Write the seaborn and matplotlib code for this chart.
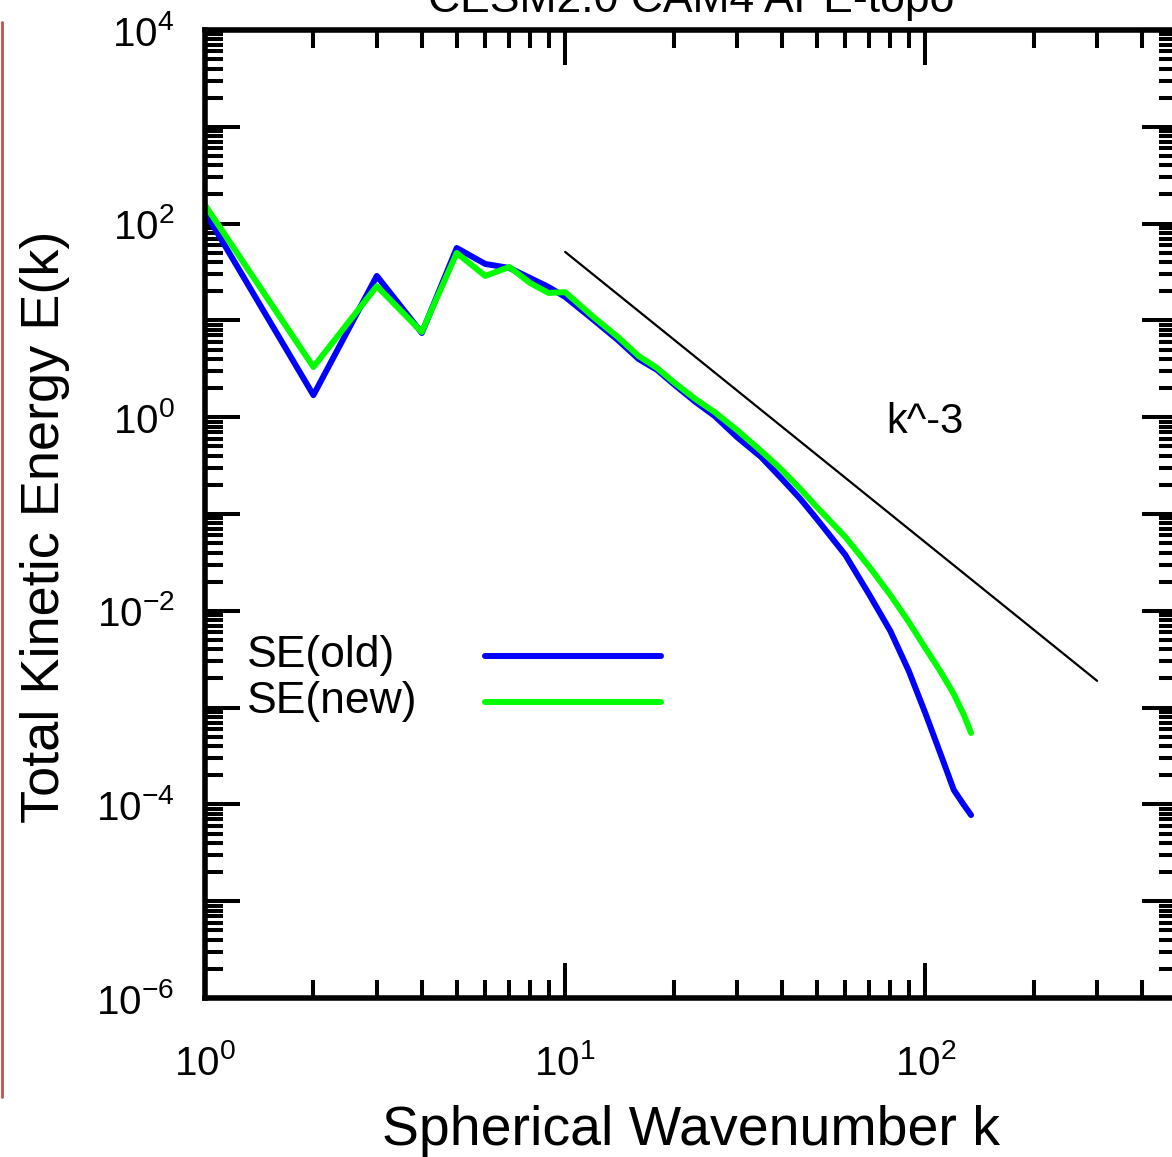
import numpy as np
import pandas as pd
import matplotlib
matplotlib.use("Agg")
import matplotlib.pyplot as plt
from matplotlib.ticker import LogLocator, FuncFormatter, NullFormatter
import seaborn as sns

# ---- data ----
k_vals = [1, 2, 3, 4, 5, 6, 7, 8, 9, 10, 12, 14, 16, 18, 20, 23, 26, 30, 35,
          40, 45, 50, 60, 70, 80, 90, 100, 110, 120, 128, 134]
e_old = [131.8, 1.69, 28.8, 7.41, 56.0, 38.3, 34.8, 27.4, 22.1, 17.5, 10.1,
         6.28, 3.99, 3.08, 2.20, 1.44, 1.03, 0.624, 0.388, 0.230, 0.143,
         0.0887, 0.0377, 0.01456, 0.00618, 0.00239, 0.000879, 0.000340,
         0.000141, 0.0000986, 0.0000776]
e_new = [155.6, 3.30, 22.6, 7.59, 49.7, 28.8, 35.6, 24.3, 19.2, 19.6, 10.8,
         6.75, 4.29, 3.22, 2.31, 1.54, 1.13, 0.738, 0.448, 0.285, 0.181,
         0.118, 0.0578, 0.0283, 0.01456, 0.00766, 0.00413, 0.00239, 0.00138,
         0.00084, 0.000547]
ref_k = [10, 300]
ref_e = [51.0, 0.00189]
series_names = ["SE(old)", "SE(new)"]
series_colors = {"SE(old)": "#0000ff", "SE(new)": "#00ff00"}

df = pd.DataFrame({
    "k": k_vals + k_vals,
    "E": e_old + e_new,
    "model": [series_names[0]] * len(k_vals) + [series_names[1]] * len(k_vals),
})

sns.set_style("white")
plt.rcParams["font.family"] = ["Liberation Sans", "DejaVu Sans"]
plt.rcParams["mathtext.fontset"] = "custom"
plt.rcParams["mathtext.rm"] = "Liberation Sans"
plt.rcParams["mathtext.it"] = "Liberation Sans:italic"
plt.rcParams["mathtext.bf"] = "Liberation Sans:bold"
for key in ["text.color", "axes.labelcolor", "xtick.color", "ytick.color",
            "axes.edgecolor"]:
    plt.rcParams[key] = "black"

W, H = 1172, 1157
fig = plt.figure(figsize=(W / 100, H / 100), dpi=100)
ax_left, ax_right, ax_top, ax_bot = 205, 1177, 30, 998
ax = fig.add_axes([ax_left / W, 1 - ax_bot / H, (ax_right - ax_left) / W,
                   (ax_bot - ax_top) / H])
ax.set_xscale("log")
ax.set_yscale("log")

sns.lineplot(data=df, x="k", y="E", hue="model", hue_order=series_names,
             palette=series_colors, linewidth=4.3, estimator=None, sort=False,
             legend=False, ax=ax, solid_capstyle="round",
             solid_joinstyle="round")
sns.lineplot(x=ref_k, y=ref_e, color="black", linewidth=1.6, ax=ax,
             legend=False, estimator=None)

ax.set_xlim(1, 500)
ax.set_ylim(1e-6, 1e4)

# ticks
ax.xaxis.set_major_locator(LogLocator(base=10, numticks=10))
ax.xaxis.set_minor_locator(LogLocator(base=10, subs=np.arange(2, 10), numticks=10))
ax.yaxis.set_major_locator(LogLocator(base=10, numticks=20))
ax.yaxis.set_minor_locator(LogLocator(base=10, subs=np.arange(2, 10), numticks=20))


def xfmt(v, pos):
    e = int(round(np.log10(v)))
    return r"$\mathregular{10^{%d}}$" % e


def yfmt(v, pos):
    e = int(round(np.log10(v)))
    if e % 2 != 0:
        return ""
    return r"$\mathregular{10^{%d}}$" % e


ax.xaxis.set_major_formatter(FuncFormatter(xfmt))
ax.yaxis.set_major_formatter(FuncFormatter(yfmt))
ax.xaxis.set_minor_formatter(NullFormatter())
ax.yaxis.set_minor_formatter(NullFormatter())

ax.tick_params(which="both", direction="in", top=True, right=True,
               bottom=True, left=True, color="black", width=2.9)
ax.tick_params(which="major", length=25, labelsize=29)
ax.tick_params(axis="x", which="major", pad=33)
ax.tick_params(axis="y", which="major", pad=22)
ax.tick_params(which="minor", length=13)
for sp in ax.spines.values():
    sp.set_linewidth(4)
    sp.set_color("black")

ax.set_xlabel("Spherical Wavenumber k", fontsize=40)
ax.set_ylabel("Total Kinetic Energy E(k)", fontsize=39)
ax.xaxis.set_label_coords(0.5, -0.111)
ax.yaxis.set_label_coords(-0.139, 0.487)
ax.set_title("CESM2.0 CAM4 APE-topo", fontsize=32, pad=13)

ax.text(78, 0.9, "k^-3", fontsize=30, ha="left", va="center")

# legend: handles drawn by matplotlib's legend, labels left-aligned to the left
handles = ax.lines[:2]
leg = ax.legend(handles=handles, labels=["", ""], loc="upper left",
                bbox_to_anchor=((485 - ax_left) / (ax_right - ax_left),
                                (ax_bot - 640) / (ax_bot - ax_top)),
                frameon=False, fontsize=32, handlelength=3.95,
                handletextpad=0, handleheight=0.75, labelspacing=0.12,
                borderpad=0, borderaxespad=0)
label_y = [655, 701]
for name, yp in zip(series_names, label_y):
    ax.text((247 - ax_left) / (ax_right - ax_left),
            (ax_bot - yp) / (ax_bot - ax_top), name, transform=ax.transAxes,
            fontsize=32, ha="left", va="center")

# thin red frame edge on the left of the source slide
fig.add_artist(plt.Line2D([2 / W, 2 / W], [1 - 22 / H, 1 - 1097 / H],
                          color="#c0504d", linewidth=2))

fig.savefig("out.png", dpi=100)
